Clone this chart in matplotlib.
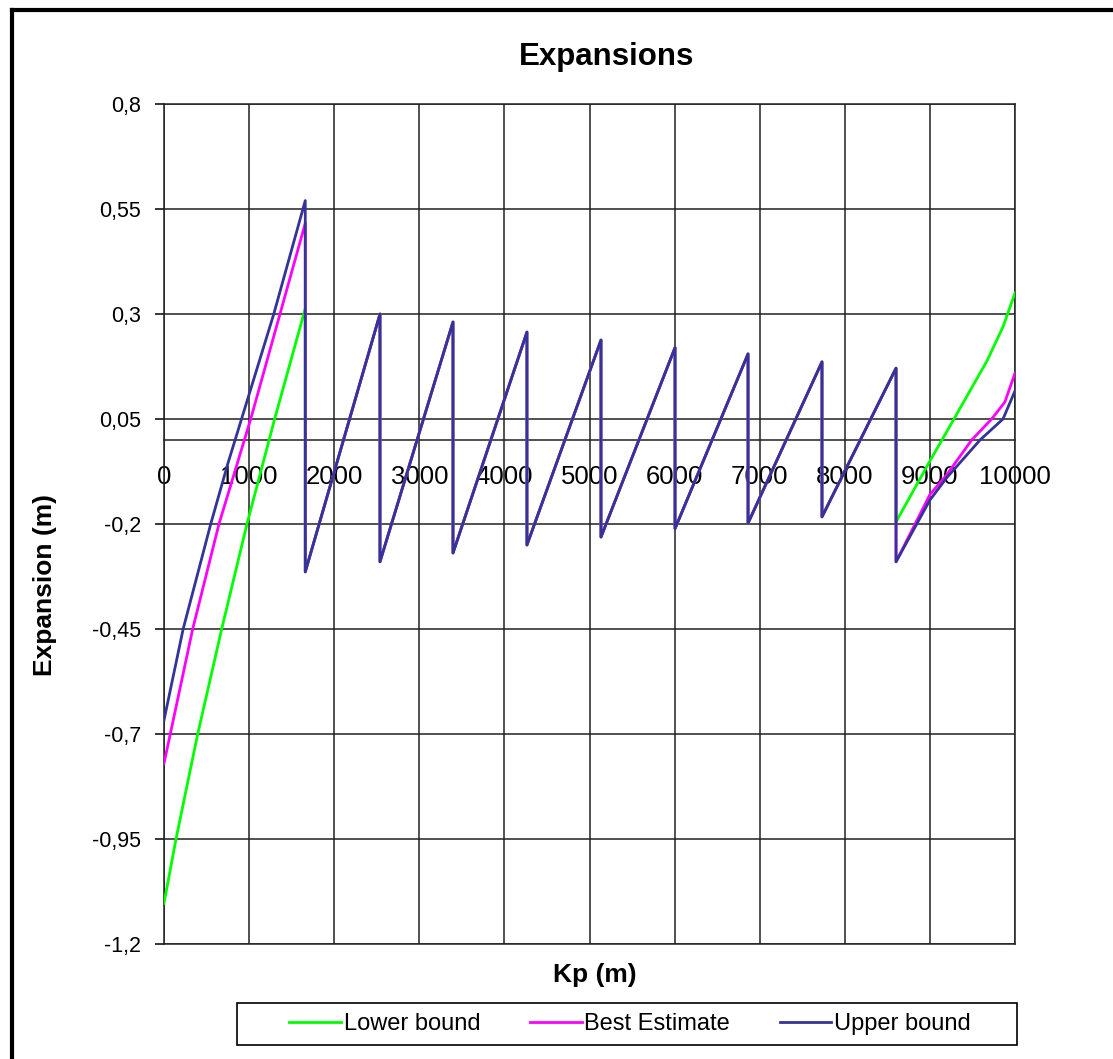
import matplotlib
matplotlib.use("Agg")
import matplotlib.pyplot as plt
from matplotlib.lines import Line2D
from matplotlib.patches import Rectangle

plt.rcParams['font.family'] = ['Liberation Sans', 'DejaVu Sans']

# ---- data ----
# first rising segment, per series
lower_head_kp = [0, 141, 396, 678, 975, 1300, 1660]
lower_head_val = [-1.103, -0.95, -0.70, -0.45, -0.20, 0.05, 0.313]
best_head_kp = [0, 337, 646, 1019, 1363, 1660]
best_head_val = [-0.77, -0.45, -0.20, 0.05, 0.30, 0.516]
upper_head_kp = [0, 225, 549, 752, 1290, 1660]
upper_head_val = [-0.667, -0.45, -0.20, -0.055, 0.30, 0.570]

# shared saw-tooth part (identical for all three series)
mid_kp = [1660, 2538, 2538, 3396, 3396, 4265, 4265, 5135, 5135, 6005, 6005,
          6863, 6863, 7732, 7732, 8602]
mid_val = [-0.314, 0.300, -0.290, 0.281, -0.269, 0.257, -0.250, 0.238, -0.231,
           0.220, -0.211, 0.205, -0.198, 0.186, -0.183, 0.171]

# last segment, per series
lower_tail_kp = [8602, 9000, 9283, 9675, 9860, 10000]
lower_tail_val = [-0.195, -0.050, 0.050, 0.190, 0.270, 0.350]
best_tail_kp = [8602, 9000, 9197, 9491, 9726, 9880, 10000]
best_tail_val = [-0.290, -0.130, -0.083, 0.000, 0.050, 0.090, 0.159]
upper_tail_kp = [8602, 9000, 9197, 9589, 9859, 10000]
upper_tail_val = [-0.290, -0.143, -0.090, 0.000, 0.050, 0.117]

series_names = ["Lower bound", "Best Estimate", "Upper bound"]
series_colors = ["#00FF00", "#FF00FF", "#333399"]

y_ticks = [0.8, 0.55, 0.3, 0.05, -0.2, -0.45, -0.7, -0.95, -1.2]
y_tick_labels = ["0,8", "0,55", "0,3", "0,05", "-0,2", "-0,45", "-0,7", "-0,95", "-1,2"]
x_ticks = [0, 1000, 2000, 3000, 4000, 5000, 6000, 7000, 8000, 9000, 10000]
x_tick_labels = [str(v) for v in x_ticks]

# ---- figure ----
W, H = 1113, 1059
fig = plt.figure(figsize=(W / 100, H / 100), dpi=100)
fig.patch.set_facecolor("white")
ax = fig.add_axes([164 / W, 1 - 944 / H, (1015 - 164) / W, (944 - 104) / H])

series = [
    (lower_head_kp + mid_kp + lower_tail_kp, lower_head_val + mid_val + lower_tail_val),
    (best_head_kp + mid_kp + best_tail_kp, best_head_val + mid_val + best_tail_val),
    (upper_head_kp + mid_kp + upper_tail_kp, upper_head_val + mid_val + upper_tail_val),
]
handles = []
for (xs, ys), name, col in zip(series, series_names, series_colors):
    h, = ax.plot(xs, ys, color=col, lw=2.0, label=name, solid_joinstyle='round', zorder=3)
    handles.append(h)

ax.set_xlim(0, 10000)
ax.set_ylim(-1.2, 0.8)
ax.set_yticks(y_ticks)
ax.set_yticklabels(y_tick_labels)
ax.set_xticks(x_ticks)
ax.set_xticklabels(x_tick_labels)

ax.grid(True, color="#202020", lw=1.1, zorder=1)
ax.set_axisbelow(True)
for s in ["top", "right", "left"]:
    ax.spines[s].set_color("#202020")
    ax.spines[s].set_linewidth(1.1)
ax.spines["bottom"].set_position(("data", 0))
ax.spines["bottom"].set_linewidth(1.1)
ax.spines["bottom"].set_color("#202020")
ax.axhline(-1.2, color="#202020", lw=1.1, clip_on=False, zorder=1)

ax.tick_params(axis="y", direction="out", length=6.5, width=1.1, pad=10, labelsize=15.5)
ax.tick_params(axis="x", length=0, pad=18, labelsize=18.5)

# titles
fig.text(607 / W, 1 - 57 / H, "Expansions", ha="center", va="center",
         fontsize=22.5, fontweight="bold")
fig.text(595 / W, 1 - 975 / H, "Kp (m)", ha="center", va="center",
         fontsize=19, fontweight="bold")
fig.text(45 / W, 1 - 585 / H, "Expansion (m)", ha="center", va="center",
         fontsize=19, fontweight="bold", rotation=90)

# legend
fig.legend(handles=handles, labels=series_names, loc="center",
           bbox_to_anchor=(630 / W, 1 - 1024 / H), ncol=3, frameon=False,
           fontsize=17, handlelength=2.2, handletextpad=0.1, columnspacing=2.1)
fig.add_artist(Rectangle((237 / W, 1 - 1045 / H), (1017 - 237) / W, 42 / H,
                         transform=fig.transFigure, fill=False, edgecolor="black", lw=1.2))

# outer chart border (left and top)
fig.add_artist(Line2D([12 / W, 12 / W], [0, 1 - 10 / H], transform=fig.transFigure,
                      color="black", lw=3))
fig.add_artist(Line2D([12 / W, 1], [1 - 10 / H, 1 - 10 / H], transform=fig.transFigure,
                      color="black", lw=3))

fig.savefig("out.png", dpi=100)
